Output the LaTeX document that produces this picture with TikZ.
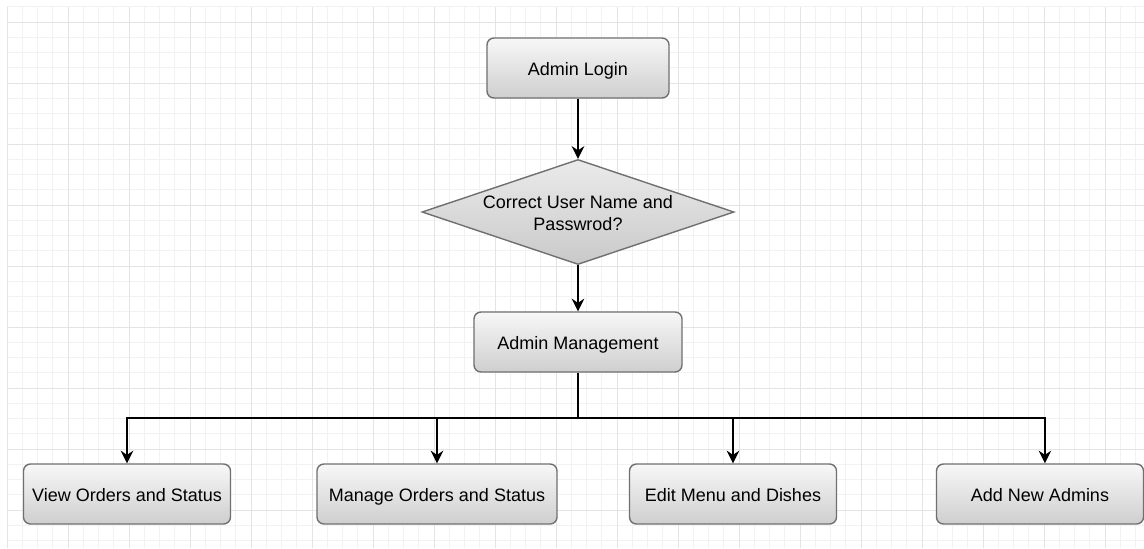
\documentclass[tikz,border=0pt]{standalone}
\usepackage{fontspec}
\setmainfont{Liberation Sans}
\usetikzlibrary{arrows.meta,shapes.geometric}

\definecolor{gridminor}{HTML}{F2F2F2}
\definecolor{gridmajor}{HTML}{E4E4E4}
\definecolor{boxline}{HTML}{707070}

\tikzset{
  box/.style={draw=boxline, line width=1pt, rounded corners=5pt,
    top color=gray!6, bottom color=gray!38,
    minimum width=5.175cm, minimum height=1.5cm,
    text height=11pt, text depth=1pt,
    font=\fontsize{12.8}{15}\selectfont},
  decision/.style={diamond, draw=boxline, line width=1pt,
    top color=gray!16, bottom color=gray!42,
    minimum width=7.8cm, minimum height=2.625cm, inner sep=0pt},
  flow/.style={draw=black, line width=1pt,
    -{Stealth[length=9pt,width=9pt,inset=3pt]}}
}

\begin{document}
\begin{tikzpicture}[x=0.025cm, y=-0.025cm]
  \useasboundingbox (0,0) rectangle (1144,548);
  \fill[white] (0,0) rectangle (1144,548);

  % background grid
  \foreach \i in {0,...,74}
    \draw[gridminor, line width=0.6pt] (7+\i*15.25,7) -- (7+\i*15.25,548);
  \foreach \j in {0,...,35}
    \draw[gridminor, line width=0.6pt] (7,6.75+\j*15.25) -- (1144,6.75+\j*15.25);
  \foreach \i in {0,...,18}
    \draw[gridmajor, line width=0.7pt] (7+\i*61,7) -- (7+\i*61,548);
  \foreach \j in {0,...,8}
    \draw[gridmajor, line width=0.7pt] (7,22+\j*61) -- (1144,22+\j*61);

  % nodes
  \node[box, minimum width=4.55cm] (login) at (578,68) {Admin Login};
  \node[decision] (check) at (578,212) {};
  \node[align=center, font=\fontsize{12.8}{15.5}\selectfont] (checktext) at (578,213)
    {Correct User Name and\\Passwrod?};
  \node[box, minimum width=5.2cm] (mgmt) at (578,342) {Admin Management};

  \node[box] (view) at (127,494) {View Orders and Status};
  \node[box, minimum width=6cm] (manage) at (437,494) {Manage Orders and Status};
  \node[box] (edit) at (733,494) {Edit Menu and Dishes};
  \node[box] (add) at (1040,494) {Add New Admins};

  \coordinate (bus) at (578,418);

  % connectors
  \draw[flow] (login) -- (check);
  \draw[flow] (check) -- (mgmt);
  \draw[flow] (mgmt.south) -- (bus) -| (view.north);
  \draw[flow] (bus) -| (manage.north);
  \draw[flow] (bus) -| (edit.north);
  \draw[flow] (bus) -| ([xshift=3.5pt]add.north);

\end{tikzpicture}
\end{document}
